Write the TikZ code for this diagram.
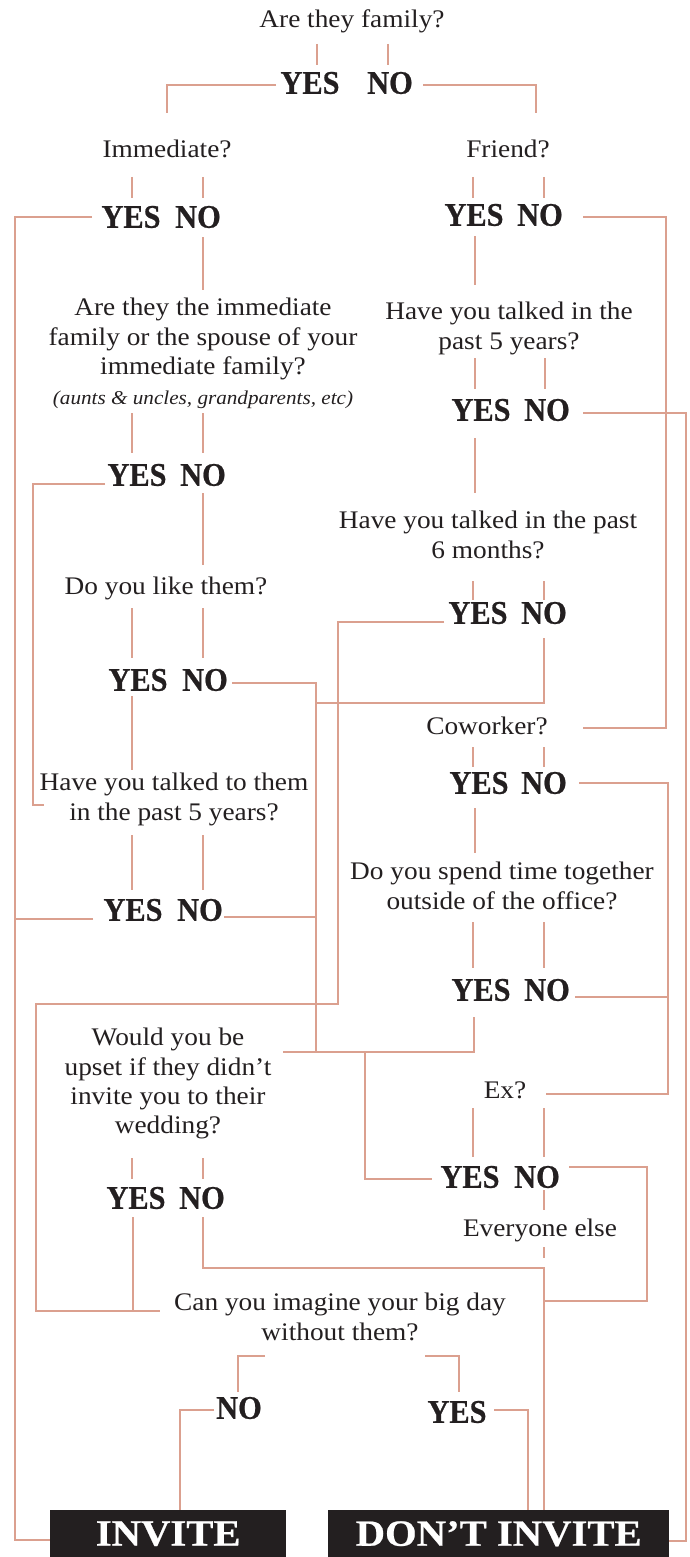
\documentclass[tikz,border=0pt]{standalone}
\usepackage{fontspec}
\setmainfont{Liberation Serif}[FakeStretch=1.08]
\newfontfamily\ynfam{Liberation Serif}[FakeStretch=0.92,FakeBold=0.6]
\newfontfamily\bigfam{Liberation Serif}[FakeStretch=1.1,FakeBold=0.6]
\definecolor{linec}{RGB}{219,160,143}
\definecolor{txt}{RGB}{35,31,32}
\newcommand\qfont{\fontsize{25.3}{29.3}\selectfont}
\newcommand\itfnt{\itshape\fontsize{19.6}{22}\selectfont}
\newcommand\ynfont{\ynfam\bfseries\fontsize{33}{33}\selectfont}
\newcommand\bigfnt{\bigfam\bfseries\fontsize{37}{37}\selectfont}
\begin{document}
\begin{tikzpicture}[x=1pt,y=-1pt,
  ln/.style={draw=linec,line width=1.5pt},
  q/.style={font=\qfont,text=txt,align=center,inner sep=0pt},
  qs/.style={q,anchor=base},
  qm/.style={q,anchor=north},
  yn/.style={font=\ynfont,text=txt,inner sep=0pt},
  endbox/.style={fill=txt,text=white,font=\bigfnt,inner sep=0pt,anchor=north west,minimum height=47pt}]
\useasboundingbox (0,0) rectangle (689,1557);

% questions and answers
\node[qs] (q1) at (352,28) {Are they family?};
\node[yn] (y1) at (310,83) {YES};
\node[yn] (n1) at (390,83) {NO};
\node[qs] (q2) at (167,158) {Immediate?};
\node[qs] (q3) at (508,158) {Friend?};
\node[yn] (y2) at (131,217) {YES};
\node[yn] (n2) at (198,217) {NO};
\node[yn] (y3) at (474,215) {YES};
\node[yn] (n3) at (540,215) {NO};
\node[qm] (q4) at (203,298) {Are they the immediate\\family or the spouse of your\\immediate family?};
\node[font=\itfnt,text=txt,inner sep=0pt,anchor=base] (q4i) at (203,404) {(aunts \& uncles, grandparents, etc)};
\node[qm] (q5) at (509,302) {Have you talked in the\\past 5 years?};
\node[yn] (y4) at (137,475) {YES};
\node[yn] (n4) at (203,475) {NO};
\node[yn] (y5) at (481,410) {YES};
\node[yn] (n5) at (547,410) {NO};
\node[qm] (q6) at (488,511) {Have you talked in the past\\6 months?};
\node[qs] (q7) at (166,594) {Do you like them?};
\node[yn] (y6) at (478,613) {YES};
\node[yn] (n6) at (544,613) {NO};
\node[yn] (y7) at (138,680) {YES};
\node[yn] (n7) at (205,680) {NO};
\node[qs] (q8) at (487,734) {Coworker?};
\node[yn] (y8) at (479,783) {YES};
\node[yn] (n8) at (544,783) {NO};
\node[qm] (q9) at (174,773) {Have you talked to them\\in the past 5 years?};
\node[qm] (q10) at (502,862) {Do you spend time together\\outside of the office?};
\node[yn] (y9) at (133,910) {YES};
\node[yn] (n9) at (200,910) {NO};
\node[yn] (y10) at (481,990) {YES};
\node[yn] (n10) at (547,990) {NO};
\node[qm] (q13) at (168,1028) {Would you be\\upset if they didn’t\\invite you to their\\wedding?};
\node[qs] (q11) at (505,1098) {Ex?};
\node[yn] (y11) at (470,1177) {YES};
\node[yn] (n11) at (537,1177) {NO};
\node[yn] (y12) at (136,1198) {YES};
\node[yn] (n12) at (202,1198) {NO};
\node[qs] (q12) at (540,1236) {Everyone else};
\node[qm] (q14) at (340,1293) {Can you imagine your big day\\without them?};
\node[yn] (n13) at (239,1408) {NO};
\node[yn] (y13) at (457,1412) {YES};
\node[endbox,minimum width=236pt] (inv) at (50,1510) {INVITE};
\node[endbox,minimum width=341pt] (dont) at (328,1510) {DON’T INVITE};

% ticks between questions and answers
\foreach \x/\a/\b in {317/44/65, 388/44/65,
  132/177/198, 203/177/198, 473/177/198, 544/177/198,
  132/413/453, 203/413/453, 475/358/389, 545/358/389,
  473/581/600, 544/581/600, 132/608/658, 203/608/658,
  473/747/767, 544/747/767, 132/835/890, 203/835/890,
  473/922/968, 544/922/968, 473/1108/1157, 544/1108/1157,
  132/1158/1179, 203/1158/1179, 544/1190/1210, 544/1247/1258}
  \draw[ln] (\x,\a) -- (\x,\b);

% connectors
\draw[ln] (276,85) -| (167,113);
\draw[ln] (423,85) -| (536,113);
\draw[ln] (92,217) -| (15,1540) -- (inv.west |- 0,1540);
\draw[ln] (203,237) -- (203,290);
\draw[ln] (475,236) -- (475,285);
\draw[ln] (583,217) -| (666,728) -- (583,728);
\draw[ln] (105,484) -| (33,805) -- (44,805);
\draw[ln] (203,493) -- (203,565);
\draw[ln] (475,438) -- (475,493);
\draw[ln] (583,413) -| (686,1541) -- (dont.east |- 0,1541);
\draw[ln] (444,622) -| (338,1004) -| (36,1311) -- (160,1311);
\draw[ln] (544,638) |- (316,703);
\draw[ln] (132,696) -- (132,770);
\draw[ln] (232,683) -| (316,1052);
\draw[ln] (579,783) -| (668,1094) -- (546,1094);
\draw[ln] (475,808) -- (475,853);
\draw[ln] (93,919) -- (15,919);
\draw[ln] (224,917) -- (316,917);
\draw[ln] (575,997) -- (668,997);
\draw[ln] (474,1017) |- (283,1052);
\draw[ln] (365,1052) |- (432,1179);
\draw[ln] (569,1167) -| (647,1301) -- (544,1301);
\draw[ln] (133,1217) -- (133,1311);
\draw[ln] (203,1217) |- (544,1268) -- (dont.north -| 544,0);
\draw[ln] (265,1356) -| (238,1392);
\draw[ln] (425,1356) -| (459,1392);
\draw[ln] (214,1410) -| (inv.north -| 180,0);
\draw[ln] (494,1410) -| (dont.north -| 528,0);
\end{tikzpicture}
\end{document}
